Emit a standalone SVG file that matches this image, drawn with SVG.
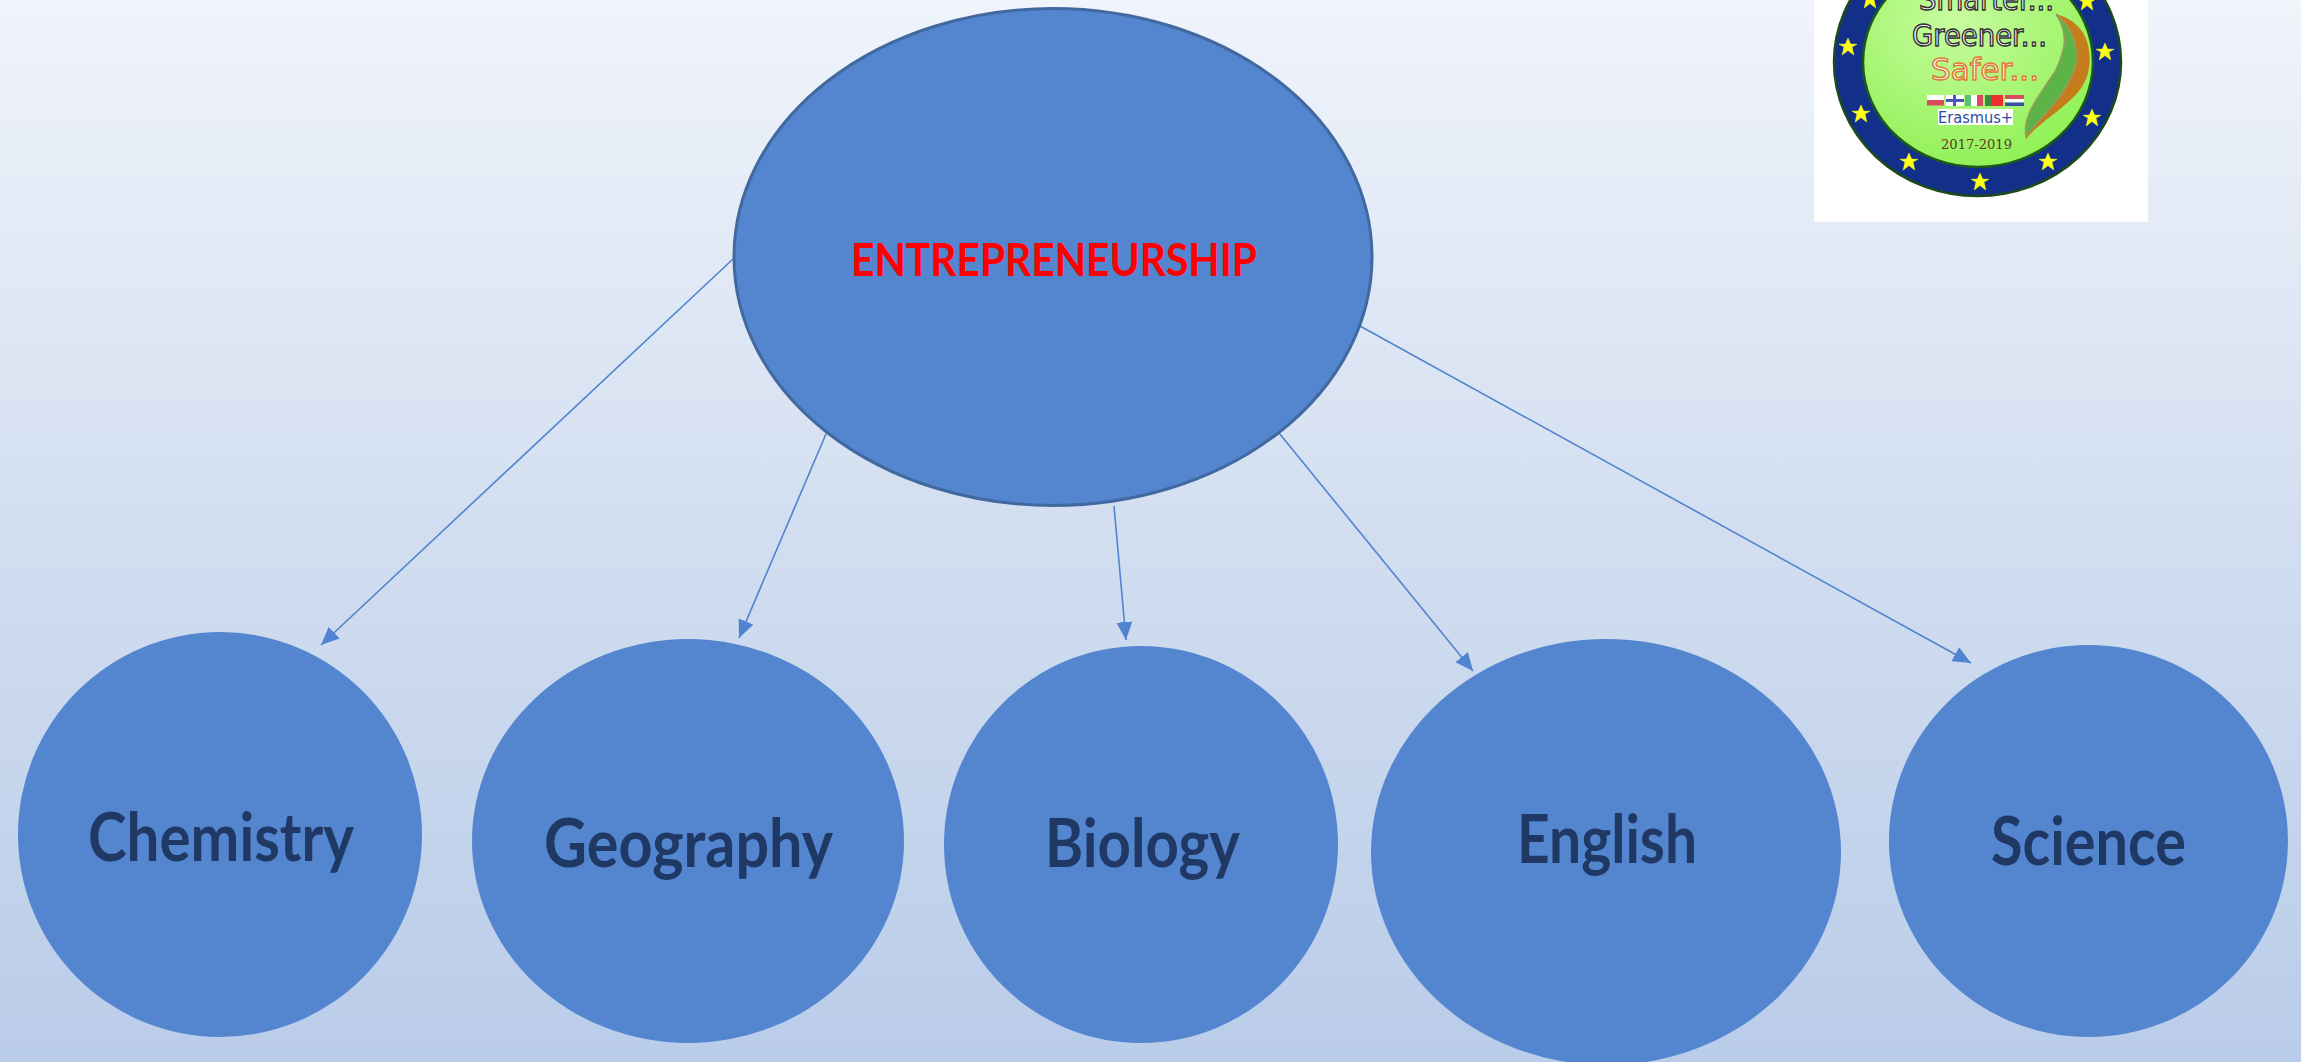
<svg xmlns="http://www.w3.org/2000/svg" width="2301" height="1062" viewBox="0 0 2301 1062">
<style>
.n{fill:#5485cf}
.l{font-family:Lato,"Open Sans","Liberation Sans",sans-serif;font-weight:700;font-size:66px;fill:#1f3864;text-anchor:start}
.c{stroke:#5083d0;stroke-width:1.6;fill:none;marker-end:url(#a)}
.g{font-family:"DejaVu Sans",sans-serif;font-weight:700;font-size:33px}
.f{stroke-width:0}
</style>
<defs>
<linearGradient id="bg" x1="0" y1="0" x2="0" y2="1">
<stop offset="0" stop-color="#f0f4fb"/><stop offset=".5" stop-color="#d2deF0"/><stop offset="1" stop-color="#b9cce9"/>
</linearGradient>
<radialGradient id="gr" cx=".4" cy=".3" r=".8"><stop offset="0" stop-color="#c8fca0"/><stop offset="1" stop-color="#8af04e"/></radialGradient>
<marker id="a" markerUnits="userSpaceOnUse" markerWidth="20" markerHeight="16" refX="18" refY="8" orient="auto"><path d="M0 0L18 8L0 16Z" fill="#5083d0"/></marker>
<path id="s" d="M0-9L2.6-2.9L9-2.8L4-.0L5.8 8L0 3.6L-5.8 8L-4 0L-9-2.8L-2.6-2.9Z" fill="#ffff14" stroke="#ffff14" stroke-width=".5"/>
</defs>
<rect width="2301" height="1062" fill="url(#bg)"/>
<g id="connectors">
<line class="c" x1="733" y1="259" x2="321" y2="645"/>
<line class="c" x1="826" y1="434" x2="739" y2="638"/>
<line class="c" x1="1114" y1="506" x2="1126" y2="640"/>
<line class="c" x1="1279" y1="433" x2="1473" y2="671"/>
<line class="c" x1="1360" y1="326" x2="1971" y2="663"/>
</g>
<g id="node-entrepreneurship">
<ellipse class="n" cx="1053" cy="257" rx="319" ry="248.5" stroke="#41699f" stroke-width="3"/>
<text x="851" y="276" font-family="Lato,'Open Sans',sans-serif" font-weight="700" font-size="46" fill="#ff0000" textLength="406" lengthAdjust="spacingAndGlyphs">ENTREPRENEURSHIP</text>
</g>
<g id="node-chemistry"><ellipse class="n" cx="220" cy="834.5" rx="202" ry="202.5"/><text class="l" x="88" y="861" textLength="266" lengthAdjust="spacingAndGlyphs">Chemistry</text></g>
<g id="node-geography"><ellipse class="n" cx="688" cy="841" rx="216" ry="202"/><text class="l" x="544" y="867" textLength="289" lengthAdjust="spacingAndGlyphs">Geography</text></g>
<g id="node-biology"><ellipse class="n" cx="1141" cy="844.5" rx="197" ry="198.5"/><text class="l" x="1045" y="867" textLength="195" lengthAdjust="spacingAndGlyphs">Biology</text></g>
<g id="node-english"><ellipse class="n" cx="1606" cy="852" rx="235" ry="213"/><text class="l" x="1517" y="863" textLength="180" lengthAdjust="spacingAndGlyphs">English</text></g>
<g id="node-science"><ellipse class="n" cx="2088.500" cy="841" rx="199.500" ry="196"/><text class="l" x="1991" y="865" textLength="195" lengthAdjust="spacingAndGlyphs">Science</text></g>
<g id="logo">
<rect x="1814" width="334" height="222" fill="#fff"/>
<ellipse cx="1977.500" cy="62" rx="143.500" ry="134" fill="#123089" stroke="#1d4a1a" stroke-width="2.500"/>
<ellipse cx="1978" cy="62" rx="115" ry="105" fill="url(#gr)" stroke="#1d5a1a" stroke-width="2.500"/>
<use href="#s" x="1848" y="47"/><use href="#s" x="2105" y="52"/><use href="#s" x="1861" y="114"/><use href="#s" x="2092" y="118"/><use href="#s" x="1909" y="162"/><use href="#s" x="2048" y="162"/><use href="#s" x="1980" y="182"/><use href="#s" x="1870" y="0"/><use href="#s" x="2087" y="2"/>
<path d="M2056 14C2085 22 2092 45 2089 68C2085 100 2045 115 2026 139C2022 115 2040 95 2056 70C2064 52 2070 35 2056 14Z" fill="#c47d1a"/>
<path d="M2056 14C2075 30 2082 55 2072 75C2062 100 2040 118 2026 136C2022 115 2040 95 2056 70C2064 52 2070 35 2056 14Z" fill="#5cb347" stroke="#9a9a60" stroke-width="1.500"/>
<g fill="#fff" stroke="#333" stroke-width="1.500" font-family="'DejaVu Sans',sans-serif">
<text x="1919" y="10" font-size="31" textLength="135" lengthAdjust="spacingAndGlyphs">Smarter...</text>
<text x="1912" y="46" font-size="31" textLength="135" lengthAdjust="spacingAndGlyphs">Greener...</text>
<text x="1931" y="80" font-size="31" stroke="#e07a30" textLength="108" lengthAdjust="spacingAndGlyphs">Safer...</text>
</g>
<rect x="1927" y="95" width="17" height="5.500" fill="#fff"/><rect x="1927" y="100" width="17" height="5.500" fill="#d94d5a"/>
<rect x="1946" y="95" width="18" height="11" fill="#fff"/><rect x="1953" y="95" width="3" height="11" fill="#4a55b8"/><rect x="1946" y="99" width="18" height="3" fill="#4a55b8"/>
<rect x="1965" y="95" width="6" height="11" fill="#5cbf7a"/><rect x="1971" y="95" width="6" height="11" fill="#fff"/><rect x="1977" y="95" width="6" height="11" fill="#d94d5a"/>
<rect x="1985" y="95" width="7" height="11" fill="#3d8a45"/><rect x="1992" y="95" width="11" height="11" fill="#f03030"/>
<rect x="2005" y="95" width="19" height="4" fill="#d94d5a"/><rect x="2005" y="99" width="19" height="3.500" fill="#fff"/><rect x="2005" y="102.500" width="19" height="3.500" fill="#3c4fa8"/>
<rect x="1938" y="109" width="75" height="16" fill="#fff"/>
<text x="1938" y="123" font-family="'DejaVu Sans',sans-serif" font-size="16" fill="#2d4aa5" textLength="75" lengthAdjust="spacingAndGlyphs">Erasmus+</text>
<text x="1941" y="149" font-family="'DejaVu Serif',serif" font-size="13" fill="#5b3a1a" textLength="71" lengthAdjust="spacingAndGlyphs">2017-2019</text>
</g>
</svg>
